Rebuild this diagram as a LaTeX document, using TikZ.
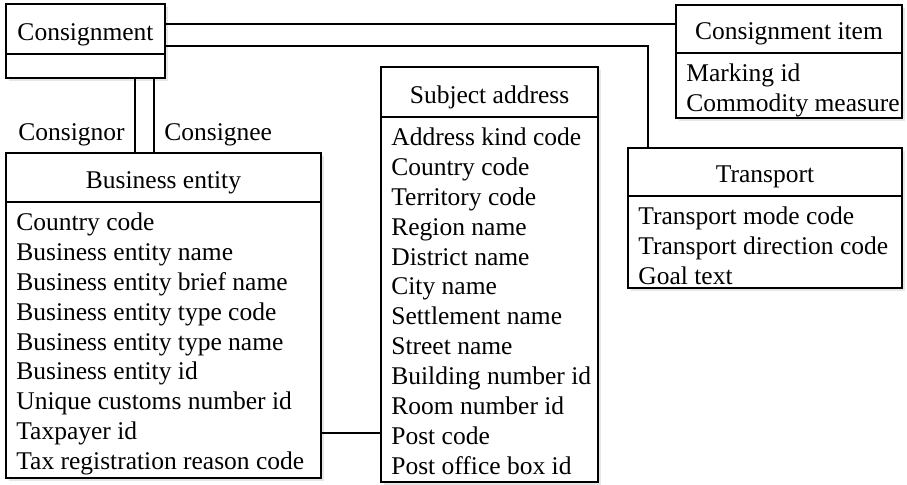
\documentclass[tikz,border=0pt]{standalone}
\usepackage{fontspec}
\setmainfont{Liberation Serif}
\usetikzlibrary{fit,shadows}

\tikzset{
  classbox/.style={draw, line width=1pt, fill=white, inner sep=0pt,
    drop shadow={shadow xshift=1.5pt, shadow yshift=-1.5pt, fill=black!18}},
  classrule/.style={line width=1pt},
  classtitle/.style={anchor=base, inner sep=0pt},
  attr/.style={anchor=base west, inner sep=0pt},
  link/.style={line width=0.9pt},
  role/.style={inner sep=0pt}
}

% \umlclass{name}{x1}{y1}{x2}{y2}{divider y}{title}{attribute list}
\newcommand{\umlclass}[8]{%
  \node[classbox, fit={(#2,#3) (#4,#5)}] (#1) {};
  \draw[classrule] (#2,#6) -- (#4,#6);
  \node[classtitle] (#1-title) at ({(#2+#4)/2},{#6-13}) {#7};
  \foreach \attrtext [count=\i from 0] in {#8}
    \node[attr] (#1-\i) at ({#2+10},{#6+28.5+29.9*\i}) {\attrtext};
}

\begin{document}
\begin{tikzpicture}[x=0.5pt, y=-0.5pt, font=\fontsize{12.75}{15}\selectfont]
  \fill[white] (0,0) rectangle (907,485);
  \useasboundingbox (0,0) rectangle (907,485);

  % classes
  \umlclass{cons}{6}{4}{165}{78}{54}{Consignment}{}
  \umlclass{ci}{676}{5}{902}{118}{53}{Consignment item}{Marking id, Commodity measure}
  \umlclass{be}{6}{153}{321}{478}{202}{Business entity}{Country code, Business entity name,
    Business entity brief name, Business entity type code, Business entity type name,
    Business entity id, Unique customs number id, Taxpayer id, Tax registration reason code}
  \umlclass{sa}{381}{67}{598}{482}{117}{Subject address}{Address kind code, Country code,
    Territory code, Region name, District name, City name, Settlement name, Street name,
    Building number id, Room number id, Post code, Post office box id}
  \umlclass{tr}{628}{148}{902}{288}{196}{Transport}{Transport mode code,
    Transport direction code, Goal text}

  % routing points of the associations
  \coordinate (r1) at (0,24);
  \coordinate (r2) at (648,46);
  \coordinate (v1) at (135,0);
  \coordinate (v2) at (154,0);
  \coordinate (r3) at (0,433);

  % associations
  \draw[link] (cons.east |- r1) -- (ci.west |- r1);
  \draw[link] (cons.east |- r2) -- (r2) -- (tr.north -| r2);
  \draw[link] (cons.south -| v1) -- (be.north -| v1);
  \draw[link] (cons.south -| v2) -- (be.north -| v2);
  \draw[link] (be.east |- r3) -- (sa.west |- r3);

  % role names
  \node[role, anchor=base east] (consignor) at (125,141) {Consignor};
  \node[role, anchor=base west] (consignee) at (164,141) {Consignee};
\end{tikzpicture}
\end{document}
